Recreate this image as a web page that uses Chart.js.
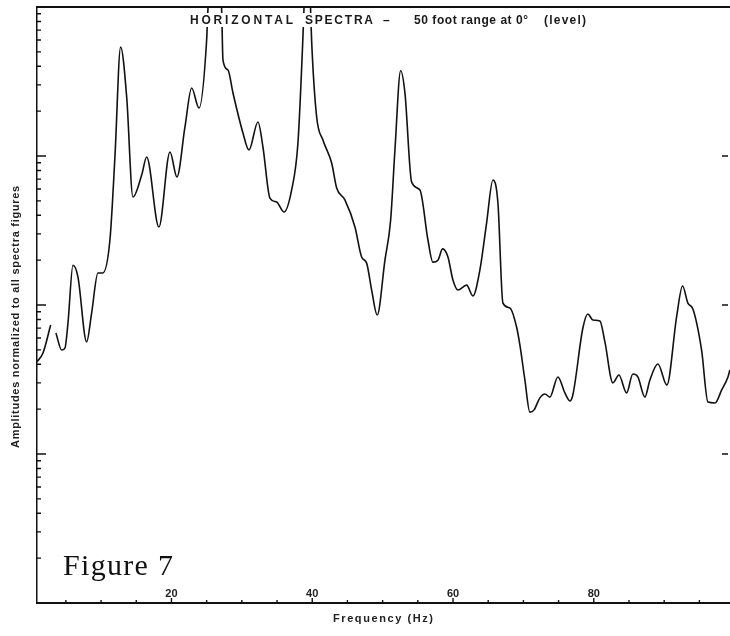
<!DOCTYPE html>
<html>
<head>
<meta charset="utf-8">
<script src="https://cdn.jsdelivr.net/npm/chart.js@4/dist/chart.umd.min.js"></script>
<style>
  html, body { margin: 0; padding: 0; background: #fff; }
  #wrap { width: 730px; height: 636px; }
</style>
</head>
<body>
<div id="wrap"><canvas id="spectra"></canvas></div>
<script>
// Frequency (Hz) and normalized amplitude
const frequencyHz = [
  0.9, 1.75, 2.84, 3.2, 3.59, 4.4, 4.87, 5.3, 6.01, 6.72, 7.95, 8.66, 9.56, 10.23,
  11.26, 11.97, 12.78, 13.64, 14.53, 15.77, 16.48, 18.22, 19.79, 20.78, 21.92, 22.87,
  23.91, 25.0, 25.18, 26.1, 27.13, 27.32, 28.03, 28.74, 30.16, 31.01, 32.29, 33.0,
  33.99, 34.94, 35.98, 37.07, 37.97, 38.68, 38.82, 39.3, 39.77, 39.91, 40.63, 41.52,
  42.76, 43.47, 44.64, 46.07, 47.02, 47.73, 48.44, 49.23, 50.33, 51.14, 51.75, 52.56,
  53.17, 54.12, 55.3, 56.44, 57.14, 57.86, 58.52, 59.28, 59.99, 60.7, 61.93, 62.83,
  63.82, 64.77, 65.67, 66.38, 67.09, 68.08, 69.03, 69.5, 70.21, 70.92, 71.49, 72.34,
  73.05, 73.76, 74.9, 75.89, 76.61, 77.03, 78.45, 79.16, 79.87, 80.87, 81.58, 82.71,
  83.57, 84.66, 85.55, 86.26, 87.26, 87.97, 89.11, 90.38, 91.76, 92.61, 93.37, 94.08,
  95.31, 96.22, 97.22, 98.17, 99.06, 99.33
];
const amplitude = [
  41.6, 47.6, 73.4, null, 64.9, 49.9, 51.4, 75.7, 185, 154, 56.5, 88.3, 164, 164,
  273, 984, 5390, 2489, 531, 745, 984, 334, 1064, 723, 1566, 2859,
  2099, 6010, 9550, 30000, 9550, 4406, 3777, 2649, 1427, 1097, 1692, 1149,
  522, 491, 421, 591, 1222, 6290, 9550, 30000, 9550, 6010, 1828, 1280,
  897, 610, 507, 334, 210, 191, 126, 85.7, 200, 372, 1097, 3736,
  2649, 669, 591, 273, 194, 200, 238, 210, 147, 126, 136, 115,
  172, 355, 690, 484, 103, 95.5, 71.2, 53.9, 31.4, 19.1, 19.7, 23.8,
  25.3, 24.1, 32.9, 25.7, 22.7, 25.0, 70.1, 87.0, 79.3, 78.1, 56.5, 30.0,
  33.9, 25.7, 34.4, 32.9, 24.1, 31.4, 40.2, 29.0, 83.0, 134, 103, 94.0,
  49.9, 22.3, 22.0, 26.9, 32.9, 36.6
];

// Axis ticks
const xTickValues = [5, 10, 15, 20, 25, 30, 35, 40, 45, 50, 55, 60, 65, 70, 75, 80, 85, 90, 95];
const xTickLabels = [20, 40, 60, 80];
const yMajorTicks = [10, 100, 1000];
const yDecades = [1, 10, 100, 1000];
const yMinorSteps = [2, 3, 4, 5, 6, 7, 8, 9];

// Printed text
const headingParts = ["HORIZONTAL", "SPECTRA", "–", "50 foot range at 0°", "(level)"];
const figureLabel = "Figure 7";
const xTitle = "Frequency (Hz)";
const yTitle = "Amplitudes normalized to all spectra figures";

const points = frequencyHz.map((f, i) => ({ x: f, y: amplitude[i] }));

// draw text stretched to a given width with letter spacing
function fitText(ctx, text, x, y, width) {
  ctx.letterSpacing = "0px";
  const natural = ctx.measureText(text).width;
  const n = Math.max(text.length - 1, 1);
  ctx.letterSpacing = ((width - natural) / n).toFixed(2) + "px";
  ctx.fillText(text, x, y);
  ctx.letterSpacing = "0px";
}

// Ticks that point into the plot, plus the top frame and the printed labels
const figureDecor = {
  id: "figureDecor",
  afterDatasetsDraw(chart) {
    const { ctx, chartArea, scales } = chart;
    const x = scales.x;
    const y = scales.y;
    ctx.save();
    ctx.strokeStyle = "#111";
    ctx.lineWidth = 1.4;
    ctx.beginPath();
    yDecades.forEach((d) => {
      yMinorSteps.forEach((s) => {
        const py = y.getPixelForValue(d * s);
        ctx.moveTo(chartArea.left, py);
        ctx.lineTo(chartArea.left + 4, py);
      });
    });
    yMajorTicks.forEach((v) => {
      const py = y.getPixelForValue(v);
      ctx.moveTo(chartArea.left, py);
      ctx.lineTo(chartArea.left + 9, py);
      ctx.moveTo(chartArea.right - 8, py);
      ctx.lineTo(chartArea.right - 2, py);
    });
    xTickValues.forEach((v) => {
      const px = x.getPixelForValue(v);
      const len = xTickLabels.includes(v) ? 5 : 3;
      ctx.moveTo(px, chartArea.bottom);
      ctx.lineTo(px, chartArea.bottom - len);
    });
    ctx.stroke();

    // top frame
    ctx.lineWidth = 2;
    ctx.beginPath();
    ctx.moveTo(chartArea.left, chartArea.top);
    ctx.lineTo(chartArea.right, chartArea.top);
    ctx.stroke();

    // in-plot heading on a white band
    ctx.fillStyle = "#fff";
    ctx.fillRect(185, 13, 410, 14);
    ctx.fillStyle = "#1a1a1a";
    ctx.textBaseline = "alphabetic";
    ctx.font = "bold 12px 'Liberation Sans'";
    const spans = [[190, 103], [305, 68], [383, 11], [414, 114], [544, 42]];
    headingParts.forEach((t, i) => fitText(ctx, t, spans[i][0], 24, spans[i][1]));

    // x tick labels sitting above the axis
    ctx.font = "bold 11px 'Liberation Sans Narrow', 'Liberation Sans'";
    ctx.textAlign = "center";
    ctx.fillStyle = "#222";
    xTickLabels.forEach((v) => {
      ctx.fillText(String(v), x.getPixelForValue(v), chartArea.bottom - 6);
    });

    // figure number
    ctx.textAlign = "left";
    ctx.fillStyle = "#111";
    ctx.font = "30px 'Liberation Serif'";
    fitText(ctx, figureLabel, 63, 575, 110);

    // axis titles
    ctx.fillStyle = "#222";
    ctx.font = "bold 11px 'Liberation Sans'";
    fitText(ctx, xTitle, 333, 622, 100);
    ctx.translate(19, 448);
    ctx.rotate(-Math.PI / 2);
    fitText(ctx, yTitle, 0, 0, 262);
    ctx.restore();
  },
};

new Chart(document.getElementById("spectra"), {
  type: "line",
  data: {
    datasets: [
      {
        data: points,
        borderColor: "#111",
        borderWidth: 1.6,
        pointRadius: 0,
        fill: false,
        spanGaps: false,
        cubicInterpolationMode: "monotone",
      },
    ],
  },
  options: {
    responsive: true,
    maintainAspectRatio: false,
    animation: false,
    layout: { padding: { top: 7, right: 0, left: 0, bottom: 0 } },
    plugins: {
      legend: { display: false },
      tooltip: { enabled: false },
    },
    scales: {
      x: {
        type: "linear",
        min: 0.9,
        max: 99.35,
        afterFit: (scale) => {
          scale.height = 33;
        },
        grid: { display: false, drawTicks: false },
        border: { display: true, color: "#111", width: 2 },
        ticks: { display: false },
      },
      y: {
        type: "logarithmic",
        min: 1,
        max: 10000,
        afterFit: (scale) => {
          scale.width = 37;
        },
        grid: { display: false, drawTicks: false },
        border: { display: true, color: "#111", width: 1.5 },
        ticks: { display: false },
      },
    },
  },
  plugins: [figureDecor],
});
</script>
</body>
</html>
